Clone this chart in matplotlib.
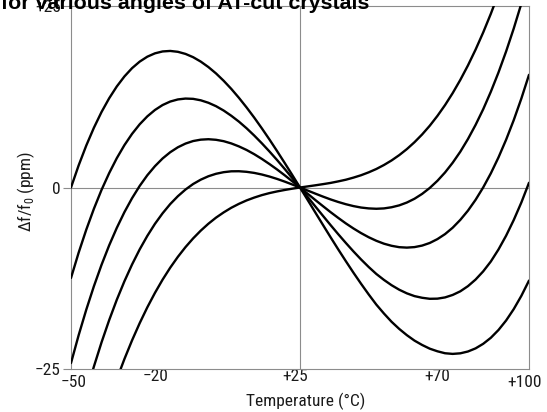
import matplotlib
matplotlib.use("Agg")
import matplotlib.pyplot as plt
import matplotlib.transforms as mtransforms
from matplotlib import font_manager

# temperature axis (deg C) and frequency deviation curves (ppm)
temps = [k * 2.5 for k in range(-20, 41)]

curve_a = [0.0, 3.04, 5.78, 8.23, 10.40, 12.29, 13.92, 15.30, 16.44, 17.34, 18.02,
           18.48, 18.74, 18.81, 18.69, 18.40, 17.95, 17.34, 16.59, 15.71, 14.70,
           13.58, 12.35, 11.03, 9.63, 8.15, 6.61, 5.01, 3.37, 1.70, 0.0,
           -1.71, -3.43, -5.14, -6.84, -8.51, -10.14, -11.73, -13.26, -14.73, -16.13,
           -17.36, -18.50, -19.48, -20.34, -21.09, -21.69, -22.20, -22.56, -22.83, -22.92,
           -22.84, -22.59, -22.16, -21.53, -20.70, -19.63, -18.32, -16.75, -14.92, -12.82]
curve_b = [-12.46, -8.98, -5.81, -2.93, -0.33, 1.98, 4.04, 5.84, 7.39, 8.71, 9.80,
           10.68, 11.36, 11.84, 12.13, 12.25, 12.21, 12.01, 11.67, 11.20, 10.60,
           9.88, 9.07, 8.16, 7.16, 6.09, 4.96, 3.78, 2.55, 1.28, 0.0,
           -1.30, -2.60, -3.89, -5.17, -6.42, -7.63, -8.80, -9.91, -10.95, -11.91,
           -12.73, -13.46, -14.08, -14.58, -14.96, -15.19, -15.33, -15.31, -15.14, -14.80,
           -14.30, -13.59, -12.68, -11.55, -10.19, -8.54, -6.64, -4.48, -2.06, 0.65]
curve_c = [-24.18, -20.35, -16.83, -13.60, -10.65, -7.97, -5.56, -3.39, -1.47, 0.22, 1.69,
           2.94, 4.00, 4.86, 5.54, 6.05, 6.40, 6.59, 6.65, 6.57, 6.38,
           6.07, 5.66, 5.17, 4.59, 3.94, 3.23, 2.48, 1.68, 0.85, 0.0,
           -0.86, -1.72, -2.56, -3.39, -4.18, -4.94, -5.64, -6.28, -6.85, -7.34,
           -7.74, -8.03, -8.22, -8.28, -8.21, -8.00, -7.64, -7.11, -6.42, -5.54,
           -4.46, -3.19, -1.70, 0.01, 1.95, 4.14, 6.58, 9.28, 12.26, 15.52]
curve_d = [-36.37, -32.17, -28.27, -24.66, -21.33, -18.27, -15.46, -12.91, -10.60, -8.52, -6.66,
           -5.00, -3.55, -2.28, -1.20, -0.28, 0.48, 1.08, 1.55, 1.89, 2.11,
           2.23, 2.24, 2.16, 2.01, 1.79, 1.51, 1.18, 0.81, 0.41, 0.0,
           -0.42, -0.84, -1.25, -1.64, -1.99, -2.30, -2.56, -2.76, -2.88, -2.93,
           -2.88, -2.72, -2.46, -2.07, -1.55, -0.88, -0.06, 0.92, 2.07, 3.41,
           4.93, 6.67, 8.62, 10.78, 13.19, 15.84, 18.74, 21.90, 25.34, 29.06]
curve_e = [-48.00, -43.77, -39.81, -36.09, -32.63, -29.40, -26.40, -23.62, -21.05, -18.68, -16.50,
           -14.51, -12.69, -11.04, -9.55, -8.21, -7.01, -5.94, -4.99, -4.15, -3.43,
           -2.79, -2.25, -1.78, -1.39, -1.05, -0.77, -0.54, -0.34, -0.16, 0.0,
           0.15, 0.30, 0.46, 0.63, 0.84, 1.07, 1.36, 1.69, 2.09, 2.55,
           3.10, 3.73, 4.46, 5.29, 6.24, 7.31, 8.51, 9.86, 11.35, 13.00,
           14.82, 16.81, 18.99, 21.36, 23.93, 26.71, 29.72, 32.95, 36.41, 40.13]

x_ticks = [-50, -20, 25, 70, 100]
x_labels = ["\u221250", "\u221220", "+25", "+70", "+100"]
y_ticks = [-25, 0, 25]
y_labels = ["\u221225", "0", "+25"]

# narrow sans if there is one, else plain Liberation Sans a bit smaller
names = {f.name for f in font_manager.fontManager.ttflist}
label_font, label_size = "Liberation Sans", 11
for cand in ["Liberation Sans Narrow", "DejaVu Sans Condensed", "Roboto Condensed"]:
    if cand in names:
        label_font, label_size = cand, 12.5
        break
plt.rcParams["font.family"] = [label_font, "DejaVu Sans"]
plt.rcParams["mathtext.fontset"] = "custom"
plt.rcParams["mathtext.rm"] = label_font

grey = "#8c8c8c"
ink = "#1a1a1a"

fig = plt.figure(figsize=(5.47, 4.12), dpi=100)
ax = fig.add_axes([71 / 547, 1 - 369 / 412, 458 / 547, 363 / 412])

ax.axvline(25, color=grey, lw=0.8, zorder=1)
ax.axhline(0, color=grey, lw=0.8, zorder=1)

for curve in [curve_a, curve_b, curve_c, curve_d, curve_e]:
    ax.plot(temps, curve, color="black", lw=1.7, solid_capstyle="round",
            solid_joinstyle="round", zorder=3)

ax.set_xlim(-50, 100)
ax.set_ylim(-25, 25)
for s in ax.spines.values():
    s.set_color(grey)
    s.set_linewidth(0.8)

ax.set_yticks(y_ticks, y_labels, fontsize=label_size, color=ink)
ax.tick_params(axis="y", length=6, width=0.8, color=grey, pad=1.5)

ax.set_xticks(x_ticks, x_labels, fontsize=label_size, color=ink)
ax.tick_params(axis="x", length=0, pad=0)

# the tick labels sit a little off their ticks in the original
offsets = [(3, -6), (-7, 0), (-4.5, 0), (0, 0), (-4.5, -6)]
for lbl, (dx, dy) in zip(ax.get_xticklabels(), offsets):
    lbl.set_transform(lbl.get_transform() +
                      mtransforms.ScaledTranslation(dx / 100, dy / 100, fig.dpi_scale_trans))

ax.set_xlabel("Temperature (\u00b0C)", fontsize=label_size, color=ink)
ax.xaxis.set_label_coords(0.513, -0.066)
ax.set_ylabel("\u0394f/f$_\\mathrm{0}$ (ppm)", fontsize=label_size, color=ink)
ax.yaxis.set_label_coords(-0.074, 0.49)

fig.text(1 / 547, 1 - 9 / 412, "for various angles of AT-cut crystals",
         fontsize=15.4, fontweight="bold", family="Liberation Sans",
         ha="left", va="baseline")

fig.savefig("out.png", dpi=100)
